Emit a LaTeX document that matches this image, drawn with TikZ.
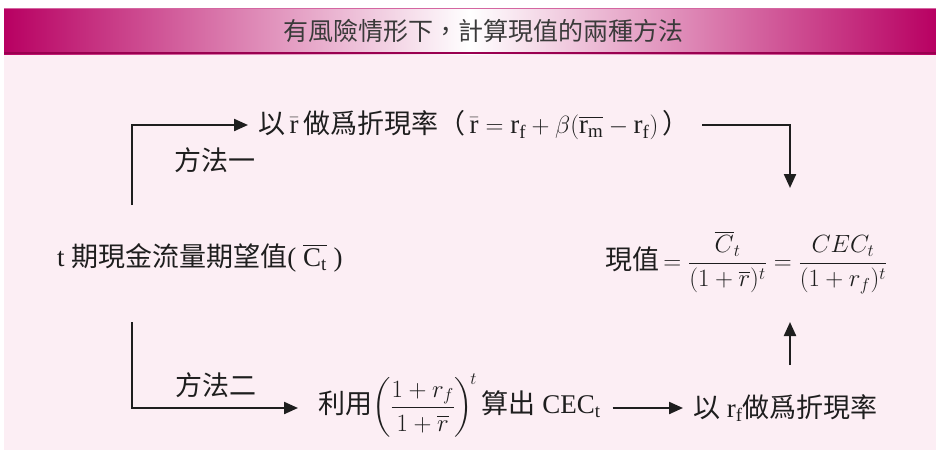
\documentclass[tikz,border=0pt]{standalone}
\usepackage{amsmath}
\usepackage{fontspec}
\setmainfont{Liberation Serif}
\newfontfamily\cjk{Noto Sans CJK TC}
\usetikzlibrary{arrows.meta,calc}
\definecolor{bgpink}{HTML}{FCEEF4}
\definecolor{mag}{HTML}{B80062}
\definecolor{magdark}{HTML}{9A0050}
\definecolor{ink}{HTML}{1E1E1E}
\definecolor{titleink}{HTML}{3A3A3A}
\begin{document}
\begin{tikzpicture}[x=1pt,y=-1pt,
  txt/.style={inner sep=0pt, text=ink, font=\fontsize{27}{32}\selectfont},
  titletxt/.style={inner sep=0pt, text=titleink, font=\fontsize{25}{30}\selectfont},
  arr/.style={line width=2.2pt, draw=ink, line join=miter, -{Triangle[length=14pt,width=12pt]}}]
\useasboundingbox (0,0) rectangle (936,450);
\fill[white] (0,0) rectangle (936,450);
\fill[bgpink] (4,54) rectangle (936,450);
\shade[left color=mag, right color=mag, middle color=white] (4,8) rectangle (936,54);
\draw[magdark, line width=1.5pt] (4,53) -- (936,53);
\draw[mag!60, line width=0.8pt] (4,8.4) -- (936,8.4);
\node[titletxt] (title) at (483,31) {\cjk 有風險情形下，計算現值的兩種方法};

% nodes
\node[txt, anchor=west] (top) at (258,125)
  {{\cjk 以}\,$\bar{\mathrm r}$\,{\cjk 做爲折現率（}\,$\bar{\mathrm r}=\mathrm r_{\mathrm f}+\beta(\overline{\mathrm r_{\mathrm m}}-\mathrm r_{\mathrm f})$\,{\cjk ）}};
\node[txt, anchor=west] (ct) at (57,258)
  {t {\cjk 期現金流量期望值}( $\overline{\mathrm{C}_{\mathrm t}}$ )};
\node[txt, anchor=west] (pv) at (605,262)
  {{\cjk 現值}$\,=\dfrac{\overline{C}_t}{(1+\overline{r})^t}=\dfrac{CEC_t}{(1+r_f)^t}$};
\node[txt, anchor=west] (calc) at (318,406)
  {{\cjk 利用}$\left(\dfrac{1+r_f}{1+\overline{r}\vphantom{r_f}}\right)^{\!t}$\,{\cjk 算出} CEC\textsubscript{t}};
\node[txt, anchor=west] (rf) at (693,408)
  {{\cjk 以} r\textsubscript{f}{\cjk 做爲折現率}};
\node[txt] (m1) at (215,160) {\cjk 方法一};
\node[txt] (m2) at (216,385) {\cjk 方法二};

% connector ends
\coordinate (s1) at (132,205);
\coordinate (s2) at (132,322);
\coordinate (e1) at (790,188);
\coordinate (u0) at (790,365);
\coordinate (u1) at (790,322);

% connectors
\draw[arr] (s1) |- ([xshift=-10pt]top.west);
\draw[arr] ([xshift=12pt]top.east) -| (e1);
\draw[arr] (s2) |- ($(calc.west)+(-20,2)$);
\draw[arr] ($(calc.east |- rf.west)+(12,0)$) -- ($(rf.west)+(-10,0)$);
\draw[arr] (u0) -- (u1);
\end{tikzpicture}
\end{document}
